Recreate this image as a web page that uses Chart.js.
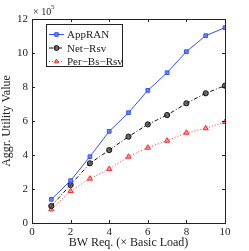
<!DOCTYPE html>
<html lang="en">
<head>
    <meta charset="UTF-8">
    <title>Aggregate utility vs BW request</title>
    <script src="https://cdn.jsdelivr.net/npm/chart.js@4.4.0/dist/chart.umd.min.js"></script>
    <style>
        html, body { margin: 0; padding: 0; background: #fff; }
    </style>
</head>
<body>
    <canvas id="myChart" width="249" height="251"></canvas>

    <script>
        // BW request multiples (x Basic Load)
        const bwReq = [1, 2, 3, 4, 5, 6, 7, 8, 9, 10];
        // utility values, in units of 10^5
        const appRAN   = [1.39, 2.49, 3.90, 5.39, 6.49, 7.80, 8.84, 10.08, 11.02, 11.49];
        const netRsv   = [1.00, 2.24, 3.51, 4.29, 5.08, 5.80, 6.35, 7.04, 7.63, 8.08];
        const perBsRsv = [0.80, 1.88, 2.61, 3.18, 3.90, 4.43, 4.84, 5.31, 5.57, 5.94];
        const xStep = 2, xMax = 10;
        const yStep = 2, yMax = 12;

        const serif = "'Liberation Serif', 'DejaVu Serif', serif";
        const blue = 'rgb(50,80,255)';
        const red = 'rgb(255,40,40)';

        function pts(ys) {
            return bwReq.map((x, i) => ({x: x, y: ys[i]}));
        }

        // MATLAB style box, inward ticks, legend and exponent label
        const matlabBox = {
            id: 'matlabBox',
            afterDraw(chart) {
                const ctx = chart.ctx;
                const a = chart.chartArea;
                const xs = chart.scales.x, ys = chart.scales.y;
                ctx.save();
                ctx.strokeStyle = '#222';
                ctx.lineWidth = 1;
                ctx.strokeRect(Math.round(a.left) + 0.5, Math.round(a.top) + 0.5,
                    Math.round(a.right - a.left), Math.round(a.bottom - a.top));
                ctx.beginPath();
                xs.ticks.forEach(t => {
                    const px = Math.round(xs.getPixelForValue(t.value)) + 0.5;
                    ctx.moveTo(px, a.bottom); ctx.lineTo(px, a.bottom - 3);
                    ctx.moveTo(px, a.top); ctx.lineTo(px, a.top + 3);
                });
                ys.ticks.forEach(t => {
                    const py = Math.round(ys.getPixelForValue(t.value)) + 0.5;
                    ctx.moveTo(a.left, py); ctx.lineTo(a.left + 3, py);
                    ctx.moveTo(a.right, py); ctx.lineTo(a.right - 3, py);
                });
                ctx.stroke();

                // exponent
                ctx.fillStyle = '#222';
                ctx.font = '10px ' + serif;
                ctx.textBaseline = 'alphabetic';
                ctx.textAlign = 'left';
                ctx.fillText('\u00d7 10', a.left + 1, a.top - 4);
                ctx.font = '7px ' + serif;
                ctx.fillText('5', a.left + 19, a.top - 10);

                // legend box
                const lx = 46, ly = 24, lw = 76, lh = 42;
                ctx.fillStyle = '#fff';
                ctx.fillRect(lx, ly, lw, lh);
                ctx.strokeStyle = '#222';
                ctx.strokeRect(lx + 0.5, ly + 0.5, lw, lh);
                chart.data.datasets.forEach((ds, i) => {
                    const y = ly + 10.5 + i * 13.5;
                    ctx.strokeStyle = ds.borderColor;
                    ctx.lineWidth = ds.borderWidth;
                    ctx.setLineDash(ds.borderDash || []);
                    ctx.beginPath();
                    ctx.moveTo(lx + 3, y); ctx.lineTo(lx + 18, y);
                    ctx.stroke();
                    ctx.setLineDash([]);
                    ctx.fillStyle = ds.pointBackgroundColor;
                    ctx.strokeStyle = ds.pointBorderColor;
                    Chart.helpers.drawPoint(ctx, {
                        pointStyle: ds.pointStyle,
                        radius: 2.5,
                        borderWidth: 1
                    }, lx + 10.5, y);
                    ctx.fillStyle = '#222';
                    ctx.font = '11px ' + serif;
                    ctx.textBaseline = 'middle';
                    ctx.fillText(ds.label, lx + 21, y + 1);
                });
                ctx.restore();
            }
        };

        const ctx = document.getElementById('myChart').getContext('2d');
        const myChart = new Chart(ctx, {
            type: 'line',
            data: {
                datasets: [{
                    label: 'AppRAN',
                    data: pts(appRAN),
                    borderColor: blue,
                    backgroundColor: blue,
                    pointBackgroundColor: 'rgba(90,120,255,0.85)',
                    pointBorderColor: blue,
                    pointStyle: 'rect',
                    pointRadius: 2.6,
                    borderWidth: 1
                }, {
                    label: 'Net\u2212Rsv',
                    data: pts(netRsv),
                    borderColor: '#111',
                    backgroundColor: '#111',
                    pointBackgroundColor: 'rgba(50,50,50,0.7)',
                    pointBorderColor: '#111',
                    pointStyle: 'circle',
                    pointRadius: 2.6,
                    borderWidth: 1,
                    borderDash: [4, 2, 1, 2]
                }, {
                    label: 'Per\u2212Bs\u2212Rsv',
                    data: pts(perBsRsv),
                    borderColor: red,
                    backgroundColor: red,
                    pointBackgroundColor: 'rgba(255,120,120,0.7)',
                    pointBorderColor: red,
                    pointStyle: 'triangle',
                    pointRadius: 3,
                    borderWidth: 1,
                    borderDash: [1, 2]
                }]
            },
            plugins: [matlabBox],
            options: {
                responsive: false,
                animation: false,
                layout: { padding: { top: 19, right: 24, left: 0, bottom: 0 } },
                plugins: { legend: { display: false }, tooltip: { enabled: false } },
                scales: {
                    x: {
                        type: 'linear',
                        min: 0, max: xMax,
                        afterFit: s => { s.height = 28; },
                        grid: { display: false, drawTicks: false },
                        border: { display: false },
                        ticks: { stepSize: xStep, autoSkip: false, color: '#222', padding: 3, maxRotation: 0, font: { family: serif, size: 11 } },
                        title: {
                            display: true,
                            text: 'BW Req. (\u00d7 Basic Load)',
                            color: '#222',
                            padding: { top: 0, bottom: 1 },
                            font: { family: serif, size: 12 }
                        }
                    },
                    y: {
                        min: 0, max: yMax,
                        afterFit: s => { s.width = 32; },
                        grid: { display: false, drawTicks: false },
                        border: { display: false },
                        ticks: { stepSize: yStep, color: '#222', padding: 4, font: { family: serif, size: 11 } },
                        title: {
                            display: true,
                            text: 'Aggr. Utility Value',
                            color: '#222',
                            padding: { top: 0, bottom: 0 },
                            font: { family: serif, size: 12 }
                        }
                    }
                }
            }
        });
    </script>
</body>
</html>
